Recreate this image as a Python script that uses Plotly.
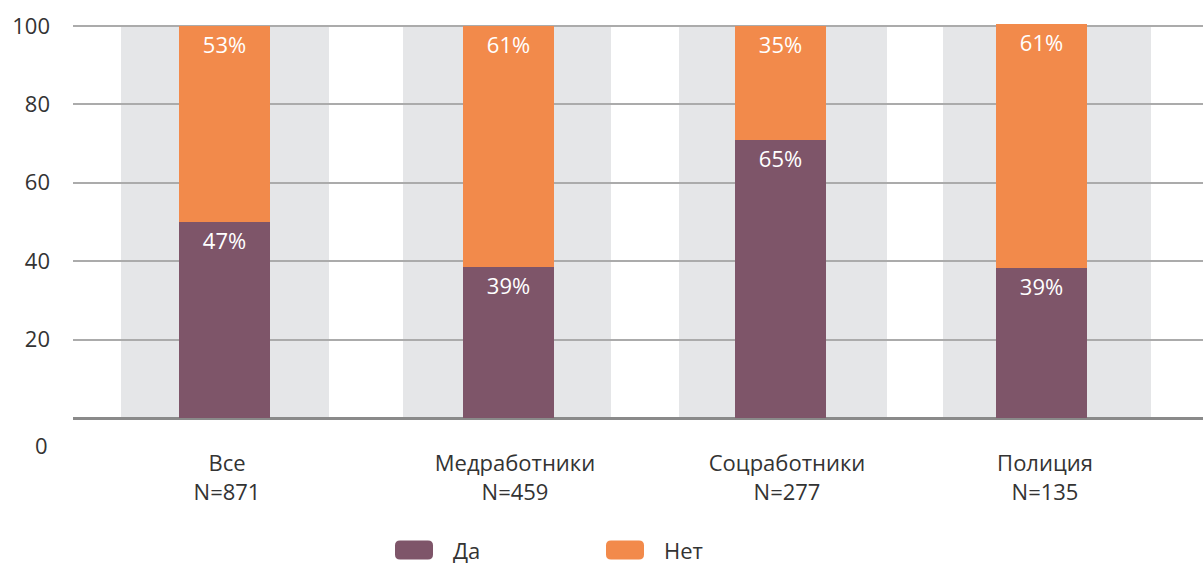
import plotly.graph_objects as go

# ---- data ----
categories = ["Все<br>N=871", "Медработники<br>N=459", "Соцработники<br>N=277", "Полиция<br>N=135"]
series_names = ["Да", "Нет"]
da_values = [50.1, 38.4, 71.0, 38.3]        # bar heights as drawn
net_values = [49.9, 61.6, 29.0, 62.3]
da_labels = ["47%", "39%", "65%", "39%"]
net_labels = ["53%", "61%", "35%", "61%"]
y_ticks = [20, 40, 60, 80, 100]

# ---- layout positions (x axis in px-like units) ----
bar_x = [151.5, 435.5, 707.5, 968.5]
band_x = [152, 434, 710, 974]
label_x = [154, 442, 714, 972]
BAR_W = 91
BAND_W = 208

PURPLE = "#7E5569"
ORANGE = "#F28A4B"
BAND = "#E5E6E8"
TEXT = "#333333"
FONT = "Open Sans"
colors = [PURPLE, ORANGE]

# plot area in pixels
L, T, W, H = 73, 22, 1130, 396
def px_x(px):
    return (px - L) / W
def px_y(py):
    return (T + H - py) / H

fig = go.Figure()
fig.add_trace(go.Bar(
    x=bar_x, y=da_values, width=BAR_W, name=series_names[0],
    marker=dict(color=PURPLE, line=dict(width=0)),
    text=da_labels, textposition="inside", insidetextanchor="end", textangle=0,
    textfont=dict(color="white", size=22, family=FONT), constraintext="none",
    hoverinfo="skip", showlegend=False,
))
fig.add_trace(go.Bar(
    x=bar_x, y=net_values, base=da_values, width=BAR_W, name=series_names[1],
    marker=dict(color=ORANGE, line=dict(width=0)),
    text=net_labels, textposition="inside", insidetextanchor="end", textangle=0,
    textfont=dict(color="white", size=22, family=FONT), constraintext="none",
    hoverinfo="skip", showlegend=False,
))

for bx in band_x:
    fig.add_shape(type="rect", xref="x", yref="y",
                  x0=bx - BAND_W / 2, x1=bx + BAND_W / 2, y0=0, y1=100,
                  fillcolor=BAND, line=dict(width=0), layer="below")

# custom legend: rounded swatches + labels
legend_box_x = [395, 606]
legend_text_x = [451, 662]
LEG_CY = 550
BOX_W, BOX_H, R = 38, 19, 5
box_top = LEG_CY - BOX_H / 2
for i, name in enumerate(series_names):
    x0p, x1p = legend_box_x[i], legend_box_x[i] + BOX_W
    y0p, y1p = box_top, box_top + BOX_H
    pts = [
        (x0p + R, y0p), (x1p - R, y0p), (x1p, y0p), (x1p, y0p + R),
        (x1p, y1p - R), (x1p, y1p), (x1p - R, y1p), (x0p + R, y1p),
        (x0p, y1p), (x0p, y1p - R), (x0p, y0p + R), (x0p, y0p), (x0p + R, y0p),
    ]
    P = [(px_x(a), px_y(b)) for a, b in pts]
    path = (f"M {P[0][0]} {P[0][1]} L {P[1][0]} {P[1][1]} Q {P[2][0]} {P[2][1]} {P[3][0]} {P[3][1]} "
            f"L {P[4][0]} {P[4][1]} Q {P[5][0]} {P[5][1]} {P[6][0]} {P[6][1]} "
            f"L {P[7][0]} {P[7][1]} Q {P[8][0]} {P[8][1]} {P[9][0]} {P[9][1]} "
            f"L {P[10][0]} {P[10][1]} Q {P[11][0]} {P[11][1]} {P[12][0]} {P[12][1]} Z")
    fig.add_shape(type="path", xref="paper", yref="paper", path=path,
                  fillcolor=colors[i], line=dict(width=0))
    fig.add_annotation(text=name, xref="paper", yref="paper",
                       x=px_x(legend_text_x[i]), y=px_y(LEG_CY), xanchor="left", yanchor="middle",
                       showarrow=False, font=dict(size=22, color=TEXT, family=FONT))

fig.add_annotation(text="0", xref="paper", yref="y", x=0, y=0, xanchor="right",
                   yanchor="middle", xshift=-23, yshift=-27, showarrow=False,
                   font=dict(size=22, color=TEXT, family=FONT))

fig.update_layout(
    width=1203, height=566,
    margin=dict(l=L, r=0, t=T, b=566 - T - H, autoexpand=False),
    plot_bgcolor="white", paper_bgcolor="white",
    barmode="overlay", bargap=0,
    font=dict(family=FONT, size=22, color=TEXT),
    showlegend=False,
    xaxis=dict(range=[0, 1130], tickvals=label_x, ticktext=categories,
               showgrid=False, zeroline=False, showline=False, ticks="",
               automargin=False, ticklabelstandoff=30,
               tickfont=dict(size=22, color=TEXT, family=FONT)),
    yaxis=dict(range=[0, 101], tickvals=y_ticks, ticktext=[str(v) for v in y_ticks],
               showgrid=True, gridcolor="#ABABAB", gridwidth=1.5,
               zeroline=True, zerolinecolor="#8A8A8A", zerolinewidth=2.5,
               showline=False, ticks="", ticklabelstandoff=22, automargin=False,
               tickfont=dict(size=22, color=TEXT, family=FONT)),
)

fig.write_html("out.html", config={"displayModeBar": False},
               post_script="document.body.style.margin='0px';")
